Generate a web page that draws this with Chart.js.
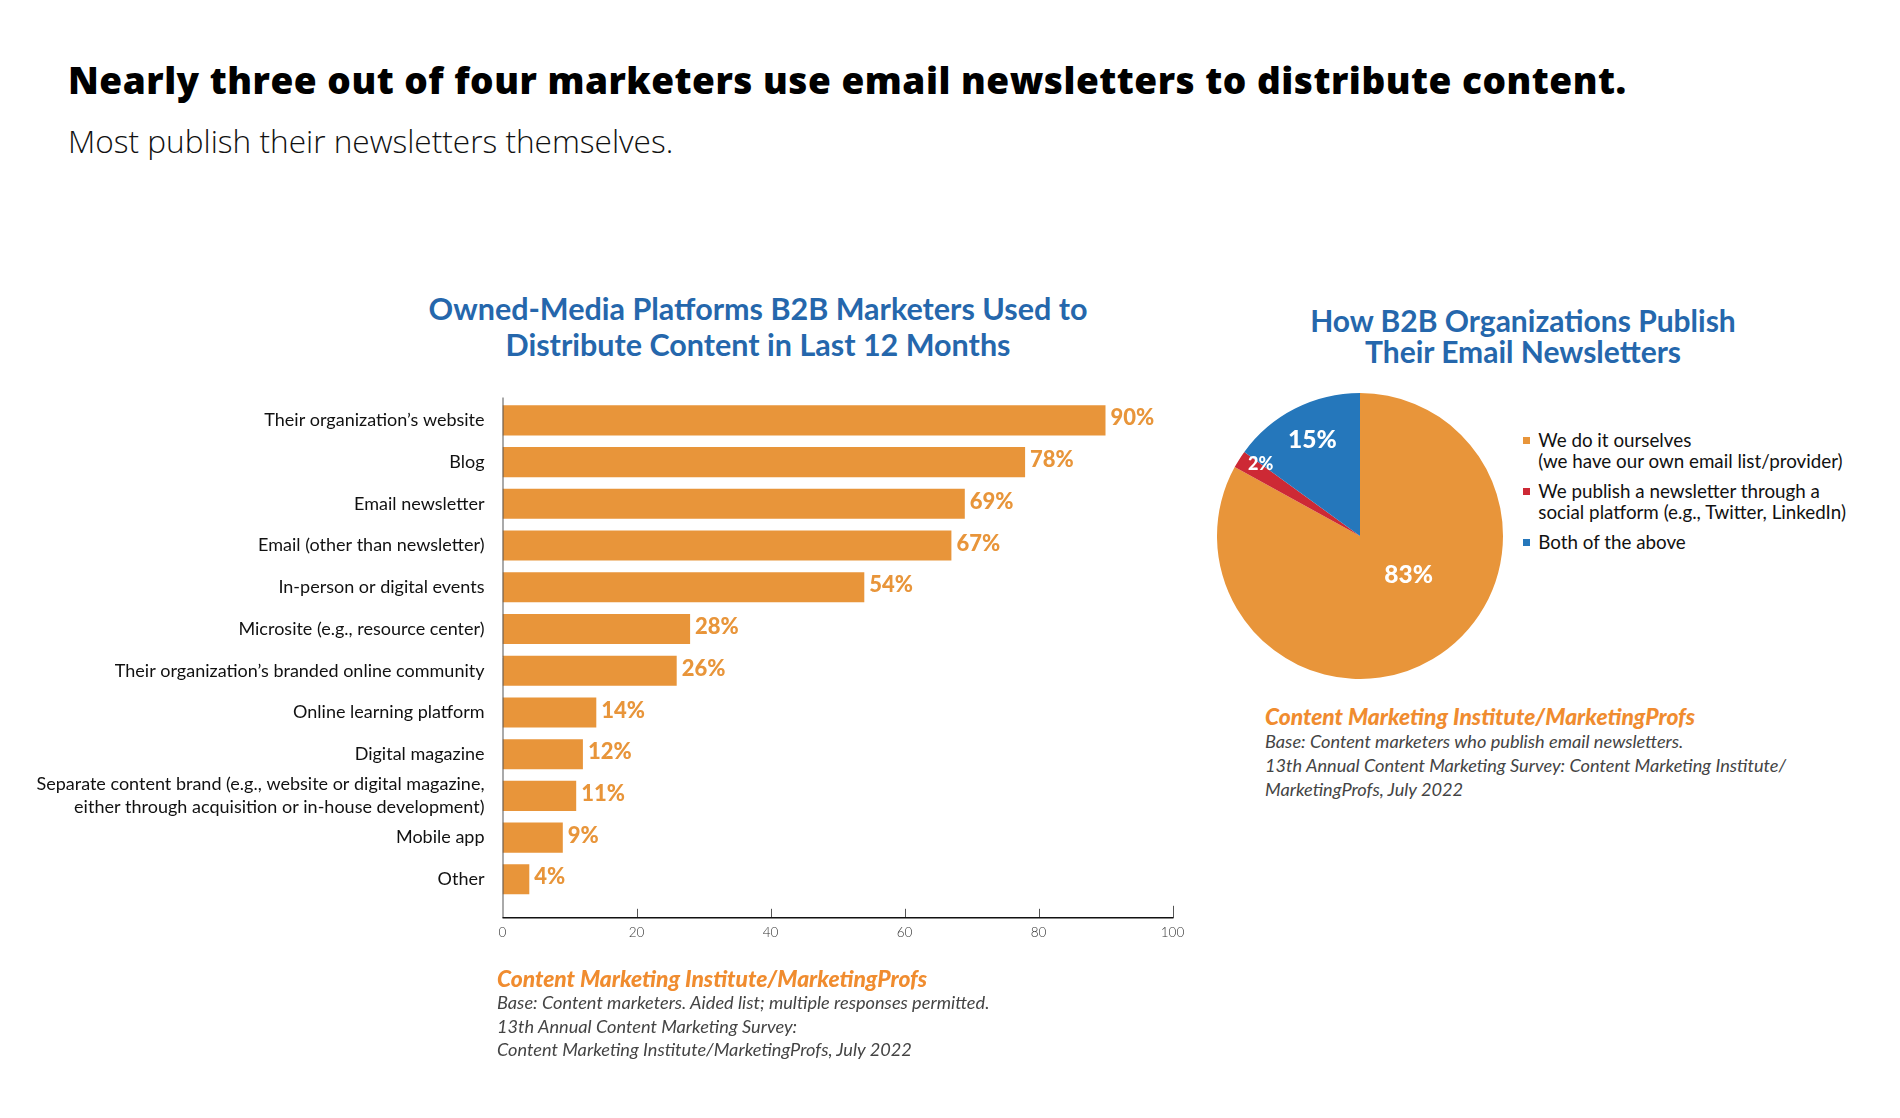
<!DOCTYPE html>
<html>
<head>
<meta charset="utf-8">
<title>Email newsletters</title>
<script src="https://cdn.jsdelivr.net/npm/chart.js@4.4.1/dist/chart.umd.min.js"></script>
<style>
  body { margin: 0; width: 1900px; height: 1118px; background: #fff; position: relative; overflow: hidden; font-family: Lato, sans-serif; color: #111; }
  .abs { position: absolute; white-space: nowrap; }
  #headline { left: 68px; top: 61px; font: 800 37px/1 "Open Sans", sans-serif; letter-spacing: 0.5px; color: #000; }
  #subhead { left: 68px; top: 125px; font: 300 31.6px/1 "Open Sans", sans-serif; color: #111; }
  .charttitle { font: 700 30px Lato, sans-serif; color: #2567ac; text-align: center; }
  #barTitle { left: 308px; width: 900px; top: 290px; line-height: 36px; font-size: 30.5px; }
  #pieTitle { left: 1223px; width: 600px; top: 305px; line-height: 31px; }
  #barWrap { left: 0; top: 370px; width: 1240px; height: 610px; }
  #pieWrap { left: 1217px; top: 393px; width: 286px; height: 286px; }
  #legend { left: 1522.7px; top: 428.7px; font: 18.8px/21.5px Lato, sans-serif; color: #111; }
  .item { position: relative; padding-left: 15.6px; margin-bottom: 8px; }
  .swatch { position: absolute; left: 0; top: 8px; width: 7.5px; height: 7.5px; }
  .source { font: italic 400 18.2px/23.5px Lato, sans-serif; color: #444; }
  .source b { display: block; font: italic 900 22.8px/25px Lato, sans-serif; color: #f08c2f; }
  #barSource { left: 497px; top: 966px; }
  #pieSource { left: 1265px; top: 703px; line-height: 24px; }
  #pieSource b { line-height: 26px; }
</style>
</head>
<body>

<div id="headline" class="abs">Nearly three out of four marketers use email newsletters to distribute content.</div>
<div id="subhead" class="abs">Most publish their newsletters themselves.</div>

<div id="barTitle" class="abs charttitle">Owned-Media Platforms B2B Marketers Used to<br>Distribute Content in Last 12 Months</div>
<div id="barWrap" class="abs"><canvas id="barChart"></canvas></div>
<div id="barSource" class="abs source">
  <b>Content Marketing Institute/MarketingProfs</b>
  Base: Content marketers. Aided list; multiple responses permitted.<br>
  13th Annual Content Marketing Survey:<br>
  Content Marketing Institute/MarketingProfs, July 2022
</div>

<div id="pieTitle" class="abs charttitle">How B2B Organizations Publish<br>Their Email Newsletters</div>
<div id="pieWrap" class="abs"><canvas id="pieChart"></canvas></div>
<div id="legend" class="abs"></div>
<div id="pieSource" class="abs source">
  <b>Content Marketing Institute/MarketingProfs</b>
  Base: Content marketers who publish email newsletters.<br>
  13th Annual Content Marketing Survey: Content Marketing Institute/<br>
  MarketingProfs, July 2022
</div>

<script>
const platforms = [
    'Their organization’s website',
    'Blog',
    'Email newsletter',
    'Email (other than newsletter)',
    'In-person or digital events',
    'Microsite (e.g., resource center)',
    'Their organization’s branded online community',
    'Online learning platform',
    'Digital magazine',
    ['Separate content brand (e.g., website or digital magazine,', 'either through acquisition or in-house development)'],
    'Mobile app',
    'Other'
];
const platformShares = [90, 78, 69, 67, 54, 28, 26, 14, 12, 11, 9, 4];

const publishWays = [
    ['We do it ourselves', '(we have our own email list/provider)'],
    ['We publish a newsletter through a', 'social platform (e.g., Twitter, LinkedIn)'],
    ['Both of the above']
];
const publishShares = [83, 2, 15];

const orange = '#e8953a';
const pieColors = [orange, '#cd2935', '#2577bb'];

Chart.defaults.font.family = 'Lato, sans-serif';

// value labels and the hand-drawn axes (ticks point up from the axis line)
const barExtras = {
    id: 'barExtras',
    afterDatasetsDraw(chart) {
        const ctx = chart.ctx;
        const area = chart.chartArea;
        const xs = chart.scales.x;
        ctx.save();
        ctx.font = '900 22px Lato, sans-serif';
        ctx.fillStyle = orange;
        ctx.textBaseline = 'middle';
        chart.getDatasetMeta(0).data.forEach((bar, i) => {
            ctx.fillText(platformShares[i] + '%', bar.x + 5, bar.y - 2);
        });

        const axisY = area.bottom + 17.6;
        ctx.strokeStyle = '#555';
        ctx.lineWidth = 1;
        ctx.beginPath();
        ctx.moveTo(area.left + 0.5, area.top - 2);
        ctx.lineTo(area.left + 0.5, axisY);
        ctx.stroke();

        xs.ticks.forEach((t, i) => {
            if (t.value === 0) return;
            const x = Math.round(xs.getPixelForValue(t.value)) + 0.5;
            const len = i === xs.ticks.length - 1 ? 12 : 9;
            ctx.beginPath();
            ctx.moveTo(x, axisY);
            ctx.lineTo(x, axisY - len);
            ctx.stroke();
        });

        ctx.strokeStyle = '#111';
        ctx.lineWidth = 1.6;
        ctx.beginPath();
        ctx.moveTo(area.left, axisY);
        ctx.lineTo(area.right + 1, axisY);
        ctx.stroke();
        ctx.restore();
    }
};

new Chart(document.getElementById('barChart'), {
    type: 'bar',
    data: {
        labels: platforms,
        datasets: [{
            data: platformShares,
            backgroundColor: orange,
            barPercentage: 0.72,
            categoryPercentage: 1
        }]
    },
    options: {
        indexAxis: 'y',
        responsive: true,
        maintainAspectRatio: false,
        animation: false,
        layout: { padding: { top: 21.3, right: 67.5, bottom: 0, left: 0 } },
        plugins: {
            legend: { display: false },
            tooltip: { enabled: false }
        },
        scales: {
            x: {
                min: 0,
                max: 100,
                ticks: { stepSize: 20, padding: 24, color: '#333', font: { size: 13.5, weight: 300 } },
                grid: { display: false, drawTicks: false },
                border: { display: false },
                afterFit: scale => { scale.height = 79.8; }
            },
            y: {
                ticks: { padding: 18, color: '#111', autoSkip: false, font: { size: 18, lineHeight: 1.28 } },
                grid: { display: false, drawTicks: false },
                border: { display: false },
                afterFit: scale => { scale.width = 502.5; }
            }
        }
    },
    plugins: [barExtras]
});

// slice labels, placed as fractions of the radius from the centre
const sliceLabelSpots = [[0.340, 0.275], [-0.695, -0.505], [-0.333, -0.67]];
const sliceLabelSizes = [24.5, 18, 24.5];

const pieText = {
    id: 'pieText',
    afterDatasetsDraw(chart) {
        const ctx = chart.ctx;
        ctx.save();
        ctx.fillStyle = '#fff';
        ctx.textAlign = 'center';
        ctx.textBaseline = 'middle';
        chart.getDatasetMeta(0).data.forEach((arc, i) => {
            const r = arc.outerRadius;
            ctx.font = '900 ' + sliceLabelSizes[i] + 'px Lato, sans-serif';
            ctx.fillText(publishShares[i] + '%', arc.x + sliceLabelSpots[i][0] * r, arc.y + sliceLabelSpots[i][1] * r);
        });
        ctx.restore();
    }
};

new Chart(document.getElementById('pieChart'), {
    type: 'pie',
    data: {
        labels: publishWays.map(l => l.join(' ')),
        datasets: [{
            data: publishShares,
            backgroundColor: pieColors,
            borderWidth: 0
        }]
    },
    options: {
        responsive: true,
        maintainAspectRatio: false,
        animation: false,
        plugins: {
            legend: { display: false },
            tooltip: { enabled: false }
        }
    },
    plugins: [pieText]
});

const legend = document.getElementById('legend');
publishWays.forEach((lines, i) => {
    const item = document.createElement('div');
    item.className = 'item';
    item.innerHTML = `<span class="swatch" style="background:${pieColors[i]}"></span>${lines.join('<br>')}`;
    legend.appendChild(item);
});
</script>
</body>
</html>
